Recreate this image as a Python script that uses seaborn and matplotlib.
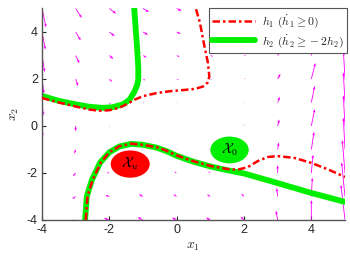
import numpy as np
import pandas as pd
import matplotlib
matplotlib.use("Agg")
import matplotlib.pyplot as plt
from matplotlib.patches import Ellipse
from matplotlib.lines import Line2D
import seaborn as sns

# ---- data ----
grid_x = [-4, -3, -2, -1, 0, 1, 2, 3, 4, 5]
grid_y = [5, 4, 3, 2, 1, 0, -1, -2, -3, -4]  # rows of the tables below (top to bottom)

field_u = [
    [0.12, 0.18, 0.20, 0.18, 0.15, 0.12, 0.10, 0.08, 0.12, -0.05],
    [0.10, 0.15, 0.16, 0.15, 0.12, 0.10, 0.08, 0.08, 0.12, -0.05],
    [0.08, 0.11, 0.12, 0.11, 0.09, 0.08, 0.06, 0.08, 0.12, -0.05],
    [0.06, 0.07, 0.08, 0.07, 0.06, 0.05, 0.04, 0.08, 0.12, -0.05],
    [0.04, 0.04, 0.04, 0.03, 0.03, 0.02, 0.02, 0.06, 0.10, -0.05],
    [0.02, 0.00, 0.00, 0.00, 0.00, 0.00, 0.01, 0.05, 0.10, -0.05],
    [0.00, -0.04, -0.04, -0.04, -0.03, -0.03, -0.02, 0.03, 0.08, -0.05],
    [0.00, -0.08, -0.08, -0.08, -0.07, -0.06, -0.05, 0.00, 0.05, -0.08],
    [0.00, -0.10, -0.12, -0.12, -0.10, -0.10, -0.08, -0.03, 0.03, -0.10],
    [0.00, -0.12, -0.16, -0.16, -0.14, -0.13, -0.10, -0.05, 0.00, -0.12],
]
field_v = [
    [-0.80, -0.40, -0.22, -0.15, -0.10, -0.08, -0.03, 0.15, 0.60, 1.10],
    [-0.75, -0.36, -0.18, -0.12, -0.08, -0.06, -0.02, 0.18, 0.62, 1.15],
    [-0.70, -0.33, -0.15, -0.09, -0.06, -0.04, 0.00, 0.20, 0.65, 1.20],
    [-0.62, -0.30, -0.12, -0.06, -0.04, -0.02, 0.02, 0.22, 0.68, 1.25],
    [-0.55, -0.26, -0.08, -0.03, -0.02, 0.00, 0.04, 0.25, 0.70, 1.28],
    [-0.45, -0.22, -0.05, 0.00, 0.00, 0.02, 0.06, 0.28, 0.72, 1.30],
    [-0.30, -0.18, -0.02, 0.03, 0.03, 0.04, 0.08, 0.30, 0.75, 1.35],
    [-0.15, -0.14, 0.02, 0.06, 0.05, 0.06, 0.10, 0.33, 0.78, 1.40],
    [-0.05, -0.10, 0.05, 0.09, 0.08, 0.08, 0.12, 0.36, 0.80, 1.45],
    [0.00, -0.06, 0.08, 0.12, 0.10, 0.10, 0.14, 0.40, 0.85, 1.50],
]

h1_upper_x = [-4.0, -3.5, -3.0, -2.6, -2.3, -2.0, -1.7, -1.45, -1.25, -1.0, -0.6, -0.2,
              0.2, 0.55, 0.78, 0.92, 0.97, 0.93, 0.81, 0.69, 0.57]
h1_upper_y = [1.19, 1.0, 0.83, 0.70, 0.65, 0.67, 0.78, 0.95, 1.12, 1.27, 1.40, 1.48,
              1.53, 1.58, 1.68, 1.85, 2.1, 2.68, 3.5, 4.4, 5.0]
h1_lower_x = [-2.7, -2.65, -2.5, -2.25, -2.0, -1.7, -1.35, -1.0, -0.6, -0.3, 0.0, 0.5,
              1.0, 1.5, 1.8, 2.1, 2.4, 2.7, 3.0, 3.5, 4.0, 4.5, 5.0]
h1_lower_y = [-4.0, -3.0, -2.3, -1.55, -1.12, -0.86, -0.75, -0.8, -0.9, -1.05, -1.25, -1.5,
              -1.7, -1.83, -1.86, -1.76, -1.5, -1.32, -1.28, -1.36, -1.57, -1.85, -2.17]

h2_upper_x = [-4.0, -3.5, -3.0, -2.6, -2.2, -1.9, -1.6, -1.4, -1.26, -1.17, -1.14, -1.14,
              -1.17, -1.21, -1.26]
h2_upper_y = [1.28, 1.07, 0.92, 0.82, 0.77, 0.80, 0.92, 1.12, 1.45, 1.75, 2.0, 2.5,
              3.2, 4.0, 5.0]
h2_lower_x = [-2.72, -2.67, -2.52, -2.27, -2.0, -1.7, -1.35, -1.0, -0.6, -0.3, 0.0, 0.5,
              1.0, 1.5, 2.0, 3.0, 4.0, 5.0]
h2_lower_y = [-4.0, -3.0, -2.3, -1.55, -1.12, -0.87, -0.76, -0.8, -0.92, -1.07, -1.27, -1.52,
              -1.72, -1.88, -2.02, -2.43, -2.85, -3.23]

set_names = [r"$\mathcal{X}_u$", r"$\mathcal{X}_0$"]
set_cx = [-1.38, 1.57]
set_cy = [-1.62, -1.02]
set_r = [0.58, 0.57]

legend_labels = [r"$h_1\ (\dot{h}_1 \geq 0)$", r"$h_2\ (\dot{h}_2 \geq -2h_2)$"]

# ---- figure ----
sns.set_theme(style="white")
plt.rcParams["font.family"] = ["Liberation Sans", "DejaVu Sans"]
plt.rcParams["mathtext.fontset"] = "cm"
plt.rcParams["axes.unicode_minus"] = False

fig = plt.figure(figsize=(3.5, 2.63), dpi=100)
ax = fig.add_axes([0.12, 0.1635, 0.8657, 0.8042])

RED = "#ff0000"
GREEN = "#00ee00"
MAG = "#ff00ff"

X, Y = np.meshgrid(grid_x, grid_y)
ax.quiver(X, Y, np.array(field_u), np.array(field_v), color=MAG,
          angles="xy", scale_units="xy", scale=1, width=0.0028,
          headwidth=3.2, headlength=4.0, headaxislength=3.6,
          minshaft=1.5, minlength=0.5, zorder=1)

def curve(xs, ys, **kw):
    df = pd.DataFrame({"x": xs, "y": ys})
    sns.lineplot(data=df, x="x", y="y", sort=False, estimator=None, ax=ax, **kw)

curve(h2_upper_x, h2_upper_y, color=GREEN, linewidth=4.2, zorder=2)
curve(h2_lower_x, h2_lower_y, color=GREEN, linewidth=4.2, zorder=2)
dash = (0, (3.0, 1.2, 1.0, 1.2))
curve(h1_upper_x, h1_upper_y, color=RED, linewidth=1.8, linestyle=dash, zorder=3)
curve(h1_lower_x, h1_lower_y, color=RED, linewidth=1.8, linestyle=dash, zorder=3)

set_colors = [RED, GREEN]
for name, cx, cy, r, c in zip(set_names, set_cx, set_cy, set_r, set_colors):
    ax.add_patch(Ellipse((cx, cy), 2 * r, 2 * r, facecolor=c, edgecolor="none", zorder=4))
    ax.text(cx, cy, name, ha="center", va="center", fontsize=10, color="black", zorder=5)

ax.set_xlim(-4, 5)
ax.set_ylim(-4, 5)
ax.set_xticks([-4, -2, 0, 2, 4])
ax.set_yticks([-4, -2, 0, 2, 4])
ax.tick_params(direction="in", length=3, width=0.8, labelsize=9, colors="#262626",
               left=True, bottom=True, pad=3)
for s in ["top", "right"]:
    ax.spines[s].set_visible(False)
for s in ["left", "bottom"]:
    ax.spines[s].set_color("#555555")
    ax.spines[s].set_linewidth(1.0)

ax.set_xlabel(r"$x_1$", fontsize=10, labelpad=2)
ax.set_ylabel(r"$x_2$", fontsize=10, labelpad=4)

handles = [Line2D([], [], color=RED, linewidth=1.8, linestyle=dash),
           Line2D([], [], color=GREEN, linewidth=4.2)]
leg = ax.legend(handles, legend_labels, loc="upper right", bbox_to_anchor=(1.007, 1.0),
                fontsize=8.5, frameon=True, fancybox=False, framealpha=1,
                edgecolor="#555555", handlelength=3.6, borderpad=0.3,
                labelspacing=0.15, handletextpad=0.6, borderaxespad=0.0)
leg.get_frame().set_linewidth(0.8)
leg.set_zorder(10)

fig.savefig("out.png", dpi=100)
